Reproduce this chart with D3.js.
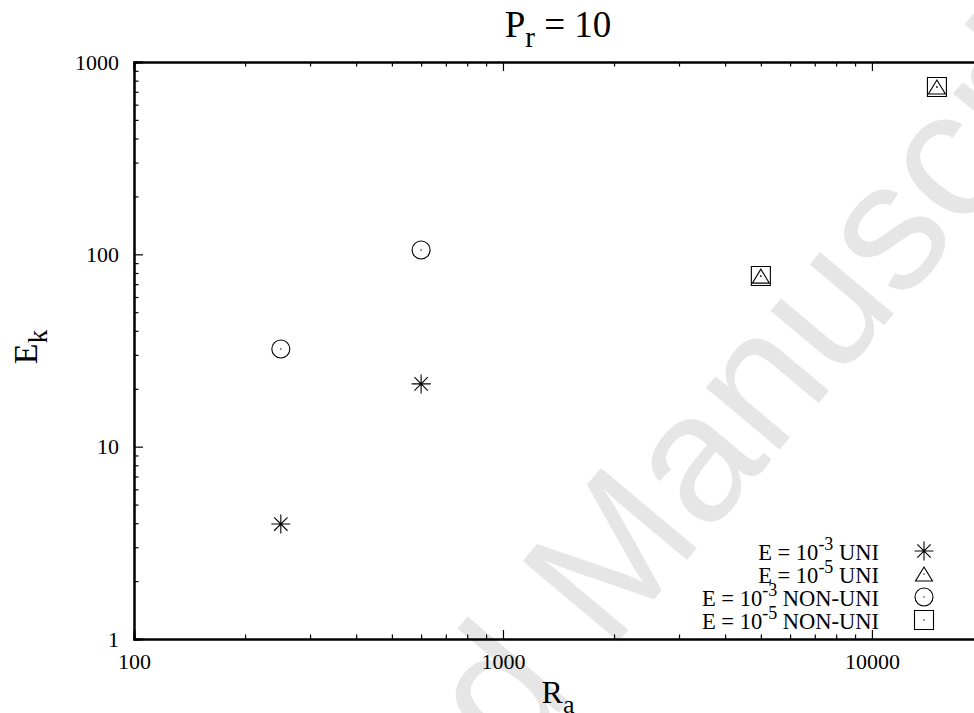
<!DOCTYPE html>
<html>
<head>
<meta charset="utf-8">
<script src="https://cdn.jsdelivr.net/npm/d3@7"></script>
<style>
  body { margin: 0; background: #fff; }
  svg { display: block; }
</style>
</head>
<body>
<div id="chart"></div>
<script>
// Kinetic energy vs Rayleigh number, Pr = 10

const raLowE = [250, 600];             // E = 10^-3 runs
const raHighE = [5000, 15000];         // E = 10^-5 runs
const ekUniE3 = [3.96, 21.2];
const ekNonUniE3 = [32.2, 105.3];
const ekUniE5 = [77.0, 741];
const ekNonUniE5 = [77.2, 741];

const legendExp = ["-3", "-5", "-3", "-5"];
const legendKind = ["UNI", "UNI", "NON-UNI", "NON-UNI"];
const legendSymbol = ["star", "triangle", "circle", "square"];

const xMajorTicks = [100, 1000, 10000];
const yMajorTicks = [1, 10, 100, 1000];

const serifFont = "Liberation Serif";

function renderChart(containerId) {
  const width = 974, height = 713;
  const margin = { top: 62, left: 134, bottom: 74, right: -9 };
  const innerWidth = width - margin.left - margin.right;
  const innerHeight = height - margin.top - margin.bottom;

  const svg = d3.select(`#${containerId}`)
    .append("svg")
    .attr("width", width)
    .attr("height", height);

  // watermark
  svg.append("text")
    .attr("transform", "translate(635,622) rotate(-50)")
    .attr("text-anchor", "middle")
    .attr("font-family", "Liberation Sans")
    .attr("font-size", 182)
    .attr("fill", "#e6e6e6")
    .text("Accepted Manuscript");

  const g = svg.append("g")
    .attr("transform", `translate(${margin.left},${margin.top})`);

  const x = d3.scaleLog().domain([100, 20000]).range([0, innerWidth]);
  const y = d3.scaleLog().domain([1, 1000]).range([innerHeight, 0]);

  const xMinor = [];
  [100, 1000, 10000].forEach(d => { for (let k = 2; k <= 9; k++) if (d * k <= 20000) xMinor.push(d * k); });
  const yMinor = [];
  [1, 10, 100].forEach(d => { for (let k = 2; k <= 9; k++) yMinor.push(d * k); });

  const major = 9, minor = 4.5;

  // bottom axis
  g.append("g").attr("transform", `translate(0,${innerHeight})`)
    .call(d3.axisBottom(x).tickValues(xMinor).tickSize(-minor).tickFormat(""));
  const bottomMaj = g.append("g").attr("transform", `translate(0,${innerHeight})`)
    .call(d3.axisBottom(x).tickValues(xMajorTicks).tickSize(-major).tickPadding(14).tickFormat(d3.format("d")));
  bottomMaj.selectAll("text").attr("dy", "0.71em");

  // top axis
  g.append("g").call(d3.axisTop(x).tickValues(xMinor).tickSize(-minor).tickFormat(""));
  g.append("g").call(d3.axisTop(x).tickValues(xMajorTicks).tickSize(-major).tickFormat(""));

  // left axis
  g.append("g").call(d3.axisLeft(y).tickValues(yMinor).tickSize(-minor).tickFormat(""));
  g.append("g")
    .call(d3.axisLeft(y).tickValues(yMajorTicks).tickSize(-major).tickPadding(15).tickFormat(d3.format("d")));

  g.selectAll(".domain").attr("stroke", "#000").attr("stroke-width", 2);
  g.selectAll(".tick line").attr("stroke", "#000").attr("stroke-width", 1.2);
  g.selectAll(".tick text")
    .attr("fill", "#000")
    .attr("font-family", serifFont)
    .attr("font-size", 22);

  // right frame (falls outside the page)
  g.append("line")
    .attr("x1", innerWidth).attr("x2", innerWidth)
    .attr("y1", 0).attr("y2", innerHeight)
    .attr("stroke", "#000").attr("stroke-width", 2);

  // marker shapes
  const shapes = {
    star: "M0,-9.5V9.5M-9.5,0H9.5M-6.7,-6.7L6.7,6.7M-6.7,6.7L6.7,-6.7",
    triangle: "M0,-7L8.5,7H-8.5Z",
    circle: "M9,0A9,9 0 1,1 -9,0A9,9 0 1,1 9,0Z",
    square: "M-9.5,-9.5H9.5V9.5H-9.5Z"
  };
  const dot = "M-0.7,0a0.7,0.7 0 1,0 1.4,0a0.7,0.7 0 1,0 -1.4,0";

  function drawMarkers(xs, ys, shape) {
    const pts = xs.map((r, i) => ({ ra: r, ek: ys[i] }));
    const mg = g.append("g");
    mg.selectAll("path.m")
      .data(pts)
      .join("path")
      .attr("class", "m")
      .attr("transform", d => `translate(${x(d.ra)},${y(d.ek)})`)
      .attr("d", shapes[shape])
      .attr("fill", "none")
      .attr("stroke", "#000")
      .attr("stroke-width", 1.1);
    if (shape !== "star") {
      mg.selectAll("path.d")
        .data(pts)
        .join("path")
        .attr("class", "d")
        .attr("transform", d => `translate(${x(d.ra)},${y(d.ek)})`)
        .attr("d", dot)
        .attr("fill", "#000");
    }
  }

  drawMarkers(raLowE, ekUniE3, "star");
  drawMarkers(raHighE, ekUniE5, "triangle");
  drawMarkers(raLowE, ekNonUniE3, "circle");
  drawMarkers(raHighE, ekNonUniE5, "square");

  // legend
  const legend = svg.append("g").attr("transform", "translate(879,551)");
  legendKind.forEach((kind, i) => {
    const row = legend.append("g").attr("transform", `translate(0,${i * 23})`);
    const t = row.append("text")
      .attr("y", 9)
      .attr("text-anchor", "end")
      .attr("font-family", serifFont)
      .attr("font-size", 22.5);
    t.append("tspan").text("E = 10");
    t.append("tspan").attr("dy", -10).attr("font-size", 18).text(legendExp[i]);
    t.append("tspan").attr("dy", 10).text(" " + kind);
    row.append("path")
      .attr("transform", "translate(45,0)")
      .attr("d", shapes[legendSymbol[i]])
      .attr("fill", "none")
      .attr("stroke", "#000")
      .attr("stroke-width", 1.1);
    if (legendSymbol[i] !== "star") {
      row.append("path").attr("transform", "translate(45,0)").attr("d", dot).attr("fill", "#000");
    }
  });

  // title
  const title = svg.append("text")
    .attr("x", 558).attr("y", 37)
    .attr("text-anchor", "middle")
    .attr("font-family", serifFont)
    .attr("font-size", 37);
  title.append("tspan").text("P");
  title.append("tspan").attr("dy", 10).attr("font-size", 29).text("r");
  title.append("tspan").attr("dy", -10).text(" = 10");

  // x label
  const xl = svg.append("text")
    .attr("x", 558).attr("y", 703)
    .attr("text-anchor", "middle")
    .attr("font-family", serifFont)
    .attr("font-size", 32);
  xl.append("tspan").text("R");
  xl.append("tspan").attr("dy", 10).attr("font-size", 26).text("a");

  // y label
  const yl = svg.append("text")
    .attr("transform", "translate(37,347) rotate(-90)")
    .attr("text-anchor", "middle")
    .attr("font-family", serifFont)
    .attr("font-size", 34);
  yl.append("tspan").text("E");
  yl.append("tspan").attr("dy", 10).attr("font-size", 27).text("k");
}

renderChart("chart");
</script>
</body>
</html>
